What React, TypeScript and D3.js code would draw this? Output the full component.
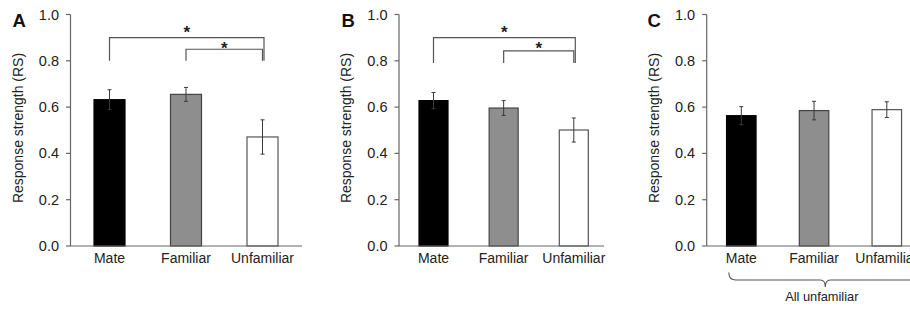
import React from 'react';
import * as d3 from 'd3';

const categories = ['Mate', 'Familiar', 'Unfamiliar'];
const yTicks = [0, 0.2, 0.4, 0.6, 0.8, 1.0];

// panel A
const meansA = [0.632, 0.655, 0.471];
const errA = [0.043, 0.03, 0.074];
// panel B
const meansB = [0.628, 0.596, 0.501];
const errB = [0.035, 0.032, 0.052];
// panel C
const meansC = [0.563, 0.585, 0.589];
const errC = [0.039, 0.04, 0.034];

const bracketsA = [
  { from: 'Mate', to: 'Unfamiliar', level: 0.90, star: 0.94 },
  { from: 'Familiar', to: 'Unfamiliar', level: 0.85, star: 0.87 },
];
const bracketsB = [
  { from: 'Mate', to: 'Unfamiliar', level: 0.90, star: 0.94 },
  { from: 'Familiar', to: 'Unfamiliar', level: 0.843, star: 0.87 },
];

const BAR_FILLS = ['#000000', '#8e8e8e', '#ffffff'];
const BAR_STROKES = ['#000000', '#444444', '#555555'];
const AXIS = '#666666';
const TEXT = '#222222';
const FONT = '"Liberation Sans", Arial, Helvetica, sans-serif';

const y = d3.scaleLinear().domain([0, 1]).range([246, 14.5]);

type Bracket = { from: string; to: string; level: number; star: number };

type PanelProps = {
  letter: string;
  letterX: number;
  labelX: number;
  axisX: number;
  axisEnd: number;
  first: number;
  last: number;
  barW: number;
  means: number[];
  errs: number[];
  brackets?: Bracket[];
  drop?: number;
  brace?: boolean;
};

const Panel = ({ letter, letterX, labelX, axisX, axisEnd, first, last, barW, means, errs, brackets = [], drop = 0.8, brace }: PanelProps) => {
  const x = d3.scalePoint<string>().domain(categories).range([first, last]);
  const braceL = x('Mate')! - 12.5;
  const braceR = x('Unfamiliar')! + 35;
  const braceM = (braceL + braceR) / 2;
  const bTop = 272.5, bMid = 280, bTip = 287;

  return (
    <g>
      <text x={letterX} y={26.5} fontSize={18.5} fontWeight="bold" fill="#111">{letter}</text>
      <text
        transform={`translate(${labelX},128) rotate(-90)`}
        textAnchor="middle"
        dominantBaseline="central"
        fontSize={14}
        fill={TEXT}
      >Response strength (RS)</text>

      {/* y axis */}
      <line x1={axisX} x2={axisX} y1={y(1)} y2={y(0)} stroke={AXIS} strokeWidth={1.2} />
      {yTicks.map(t => (
        <g key={t}>
          <line x1={axisX - 4.5} x2={axisX} y1={y(t)} y2={y(t)} stroke={AXIS} strokeWidth={1.2} />
          <text x={axisX - 11.5} y={y(t)} textAnchor="end" dominantBaseline="central" fontSize={14.5} fill={TEXT}>
            {d3.format('.1f')(t)}
          </text>
        </g>
      ))}

      {/* bars */}
      {categories.map((c, i) => (
        <rect
          key={c}
          x={x(c)! - barW / 2}
          y={y(means[i])}
          width={barW}
          height={y(0) - y(means[i])}
          fill={BAR_FILLS[i]}
          stroke={BAR_STROKES[i]}
          strokeWidth={1.2}
        />
      ))}

      {/* error bars */}
      {categories.map((c, i) => {
        const cx = x(c)!;
        const hi = y(means[i] + errs[i]);
        const lo = y(means[i] - errs[i]);
        return (
          <g key={c} stroke="#3a3a3a" strokeWidth={1}>
            <line x1={cx} x2={cx} y1={hi} y2={lo} />
            <line x1={cx - 2} x2={cx + 2} y1={hi} y2={hi} />
            <line x1={cx - 2} x2={cx + 2} y1={lo} y2={lo} />
          </g>
        );
      })}

      {/* x axis */}
      <line x1={axisX} x2={axisEnd} y1={y(0)} y2={y(0)} stroke={AXIS} strokeWidth={1.2} />
      {categories.map(c => (
        <text key={c} x={x(c)} y={263} textAnchor="middle" fontSize={14} fill={TEXT}>{c}</text>
      ))}

      {/* significance brackets */}
      {brackets.map((b, i) => {
        const x1 = x(b.from)!;
        const x2 = x(b.to)! + (i === 0 ? 1.5 : 0);
        const ly = y(b.level);
        const dy = y(drop);
        return (
          <g key={i}>
            <path d={`M${x1},${dy}V${ly}H${x2}V${dy}`} fill="none" stroke="#555" strokeWidth={1.2} />
            <text x={(x1 + x2) / 2} y={y(b.star) + 0.58 * 17} textAnchor="middle" fontSize={17} fontWeight="bold" fill="#222">*</text>
          </g>
        );
      })}

      {brace && (
        <g>
          <path
            d={`M${braceL},${bTop} Q${braceL},${bMid} ${braceL + 7},${bMid} L${braceM - 5},${bMid} Q${braceM},${bMid} ${braceM},${bTip} Q${braceM},${bMid} ${braceM + 5},${bMid} L${braceR - 7},${bMid} Q${braceR},${bMid} ${braceR},${bTop}`}
            fill="none"
            stroke="#555"
            strokeWidth={1.1}
          />
          <text x={braceM - 3.5} y={301} textAnchor="middle" fontSize={12.8} fill={TEXT}>All unfamiliar</text>
        </g>
      )}
    </g>
  );
};

export default function App() {
  return (
    <div style={{ position: 'absolute', left: 0, top: 0 }}>
      <svg width={910} height={309} style={{ display: 'block', background: '#fff', fontFamily: FONT }}>
        <Panel letter="A" letterX={12.5} labelX={17.5} axisX={70.5} axisEnd={302} first={109.5} last={262.5} barW={31}
          means={meansA} errs={errA} brackets={bracketsA} drop={0.8} />
        <Panel letter="B" letterX={341.5} labelX={345.5} axisX={399} axisEnd={604} first={433.5} last={573.8} barW={29}
          means={meansB} errs={errB} brackets={bracketsB} drop={0.79} />
        <Panel letter="C" letterX={647.5} labelX={653.8} axisX={706.7} axisEnd={915} first={741.3} last={886.8} barW={29.5}
          means={meansC} errs={errC} brace />
      </svg>
    </div>
  );
}
